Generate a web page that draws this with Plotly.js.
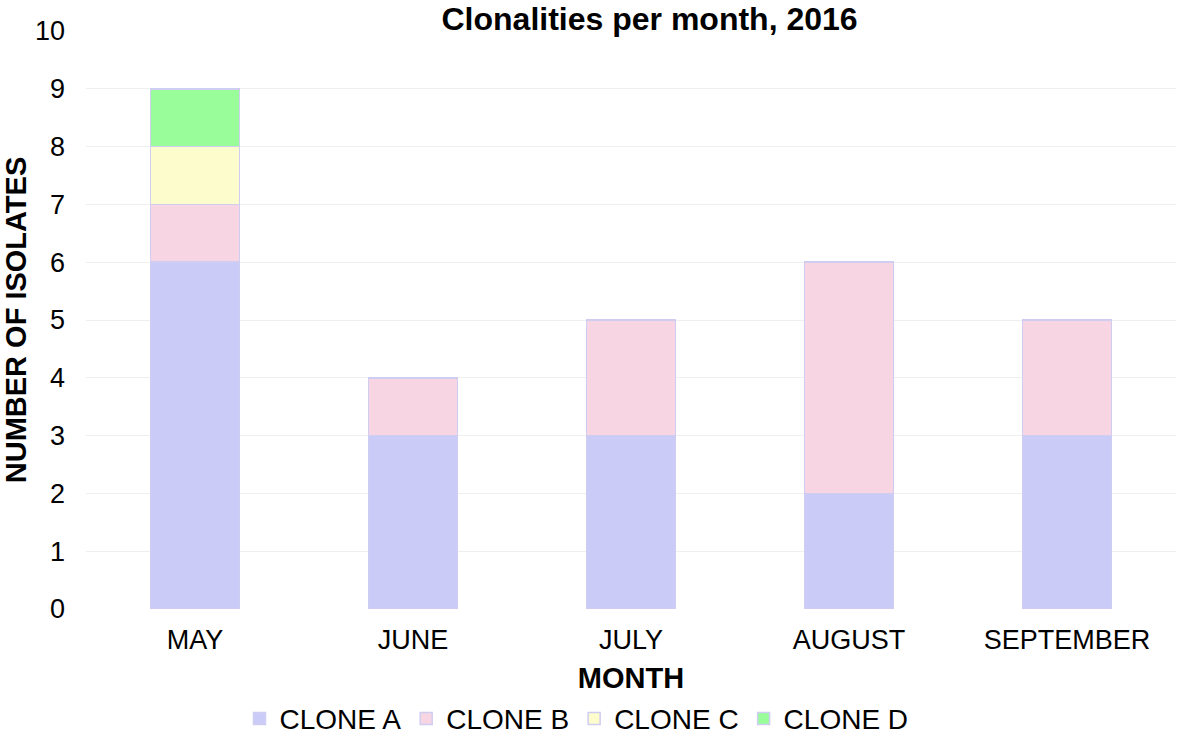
<!DOCTYPE html>
<html><head><meta charset="utf-8">
<script src="https://cdn.plot.ly/plotly-3.0.1.min.js"></script>
<style>html,body{margin:0;padding:0;background:#fff}#c{width:1181px;height:737px}</style>
</head><body><div id="c"></div>
<script>
const months = ["MAY","JUNE","JULY","AUGUST","SEPTEMBER"];
const cloneA = [6,3,3,2,3];
const cloneB = [1,1,2,4,2];
const cloneC = [1,0,0,0,0];
const cloneD = [1,0,0,0,0];
const names = ["CLONE A","CLONE B","CLONE C","CLONE D"];
const colors = ["#cbcbf7","#f8d5e3","#fdfccc","#99fe99"];
const series = [cloneA, cloneB, cloneC, cloneD];
const traces = series.map((v,i)=>({
  type:"bar", x:months, y:v, name:names[i],
  marker:{color:colors[i], line:{color:"#cfcdf2", width:1.5}},
  width:0.41, hoverinfo:"y"
}));
const layout = {
  width:1181, height:737, barmode:"stack",
  margin:{l:86,r:5,t:31,b:128, autoexpand:false},
  paper_bgcolor:"#fff", plot_bgcolor:"#fff",
  font:{family:"Liberation Sans, Arial, sans-serif", color:"#000", size:27},
  title:{text:"<b>Clonalities per month, 2016</b>", x:0.55, xanchor:"center", y:0.974, yanchor:"middle", font:{size:32}},
  xaxis:{title:{text:"<b>MONTH</b>", font:{size:29}, standoff:13}, showline:false, ticks:"", tickfont:{size:27}, automargin:true, ticklabelstandoff:12},
  yaxis:{range:[0,10], dtick:1, gridcolor:"#efefef", gridwidth:1, zeroline:false, showline:false, ticks:"", ticklen:0, tickfont:{size:27},
    ticklabelstandoff:20,
    title:{text:"<b>NUMBER OF ISOLATES</b>", font:{size:29}, standoff:8}, automargin:true},
  legend:{orientation:"h", x:0.45, xanchor:"center", y:-0.19, yanchor:"middle", font:{size:28}, traceorder:"normal", itemwidth:30},
  showlegend:true
};
Plotly.newPlot("c", traces, layout, {displayModeBar:false, staticPlot:true});
</script></body></html>
